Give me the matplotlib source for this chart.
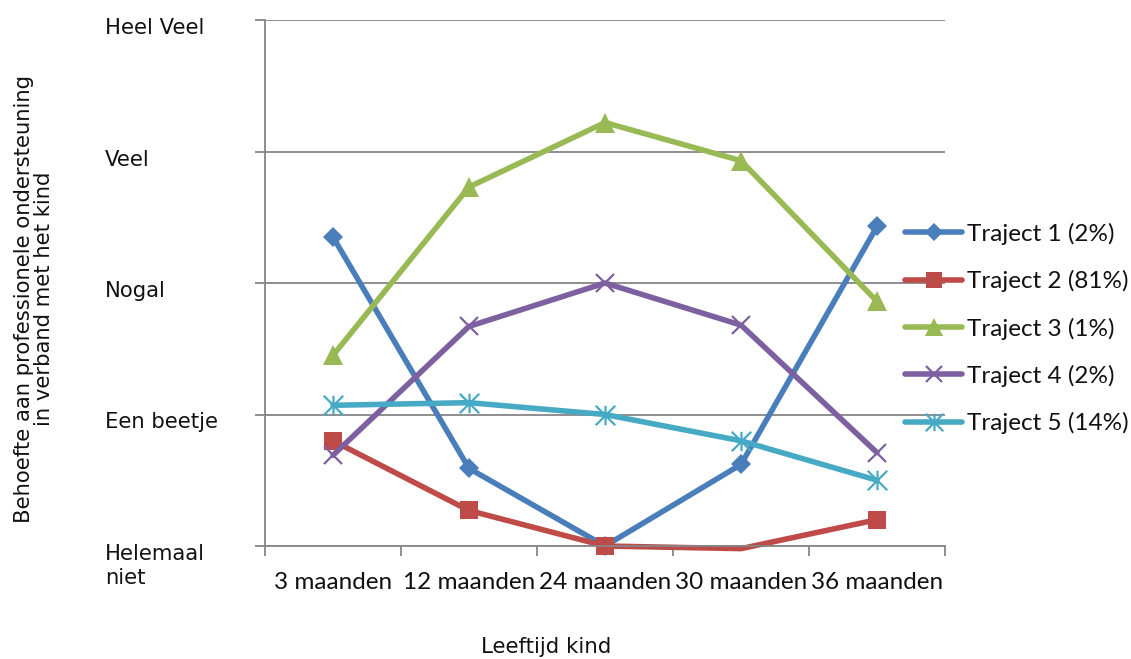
import matplotlib
matplotlib.use("Agg")
import matplotlib.pyplot as plt
from matplotlib.lines import Line2D
from matplotlib.path import Path
from matplotlib import transforms
import numpy as np

# Categories and answer scale
leeftijden = ["3 maanden", "12 maanden", "24 maanden", "30 maanden", "36 maanden"]
niveaus = ["Helemaal\nniet", "Een beetje", "Nogal", "Veel", "Heel Veel"]
niveau_waarden = [1, 2, 3, 4, 5]

# Mean need for support per trajectory
traject_namen = ["Traject 1 (2%)", "Traject 2 (81%)", "Traject 3 (1%)",
                 "Traject 4 (2%)", "Traject 5 (14%)"]
traject_1 = [3.35, 1.59, 1.00, 1.62, 3.43]
traject_2 = [1.80, 1.27, 1.00, 0.98, 1.20]
traject_3 = [2.45, 3.73, 4.22, 3.93, 2.86]
traject_4 = [1.69, 2.67, 3.00, 2.68, 1.71]
traject_5 = [2.07, 2.09, 2.00, 1.80, 1.50]

# Asterisk marker: an x with a vertical bar through it
ster = Path([(-0.5, -0.5), (0.5, 0.5), (-0.5, 0.5), (0.5, -0.5), (0, -0.5), (0, 0.5)],
            [Path.MOVETO, Path.LINETO, Path.MOVETO, Path.LINETO, Path.MOVETO, Path.LINETO])

stijlen = [
    dict(color="#4A7EBB", marker="D", ms=10.0, mew=0),
    dict(color="#BE4B48", marker="s", ms=13.5, mew=0),
    dict(color="#98B954", marker="^", ms=14.0, mew=0),
    dict(color="#7D60A0", marker="x", ms=13.0, mew=1.6),
    dict(color="#46AAC5", marker=ster, ms=14.0, mew=1.6),
]

GRIJS = "#868686"
TEKST = "#111111"
LW = 4.0
W, H = 1131, 659
fig = plt.figure(figsize=(W / 100, H / 100), dpi=100)
ax = fig.add_axes([265 / W, 1 - 546 / H, 680 / W, 526 / H])

x = np.arange(len(leeftijden))
reeksen = [traject_1, traject_2, traject_3, traject_4, traject_5]
handvatten = []
for naam, waarden, st in zip(traject_namen, reeksen, stijlen):
    waarden = np.asarray(waarden, dtype=float)
    ax.plot(x, waarden, color=st["color"], lw=LW, clip_on=False,
            solid_capstyle="round", solid_joinstyle="round")
    # markers of points outside the scale are not shown
    zichtbaar = np.ma.masked_outside(waarden, 1, 5)
    ax.plot(x, zichtbaar, ls="none", marker=st["marker"], ms=st["ms"],
            color=st["color"], mfc=st["color"], mec=st["color"],
            mew=st["mew"], clip_on=False)
    handvatten.append(Line2D([], [], color=st["color"], lw=LW,
                             solid_capstyle="round", marker=st["marker"],
                             ms=st["ms"] * 0.9, mfc=st["color"], mec=st["color"],
                             mew=st["mew"], label=naam))

ax.set_xlim(-0.5, len(leeftijden) - 0.5)
ax.set_ylim(1, 5)

# y axis: gridlines with custom, left-aligned level labels
ax.set_yticks(niveau_waarden)
ax.yaxis.grid(True, color=GRIJS, lw=1.3)
ax.set_axisbelow(True)
ax.tick_params(axis="y", length=7, width=1.3, color=GRIJS, labelleft=False)

trans = transforms.blended_transform_factory(fig.transFigure, ax.transData)
trans = transforms.offset_copy(trans, fig=fig, x=0, y=2, units="dots")
for v, lab in zip(niveau_waarden, niveaus):
    ax.text(105 / W, v, lab, transform=trans, ha="left", va="top",
            fontsize=15.2, family="DejaVu Sans", color=TEKST,
            linespacing=1.25, clip_on=False)

# x axis: category labels between boundary ticks
ax.set_xticks(x)
ax.set_xticklabels(leeftijden, family="Lato", fontsize=17.5, color=TEKST)
ax.set_xticks(np.arange(-0.5, len(leeftijden)), minor=True)
ax.tick_params(axis="x", which="major", length=0, pad=19)
ax.tick_params(axis="x", which="minor", length=7, width=1.3, color=GRIJS)

for s in ("top", "right"):
    ax.spines[s].set_visible(False)
for s in ("left", "bottom"):
    ax.spines[s].set_color(GRIJS)
    ax.spines[s].set_linewidth(1.3)

fig.text(34 / W, 1 - 299 / H,
         "Behoefte aan professionele ondersteuning\nin verband met het kind",
         rotation=90, ha="center", va="center", multialignment="center",
         fontsize=15.2, family="DejaVu Sans", color=TEKST, linespacing=1.05)
fig.text(546 / W, 1 - 647 / H, "Leeftijd kind", ha="center", va="center",
         fontsize=15.4, family="DejaVu Sans", color=TEKST)

fig.legend(handles=handvatten, loc="center left",
           bbox_to_anchor=(905 / W, 1 - 328.5 / H), frameon=False,
           prop=dict(family="Lato", size=17.5), handlelength=2.35,
           handletextpad=0.2, labelspacing=1.04, borderpad=0, borderaxespad=0,
           labelcolor=TEKST)

fig.savefig("out.png", dpi=100)
